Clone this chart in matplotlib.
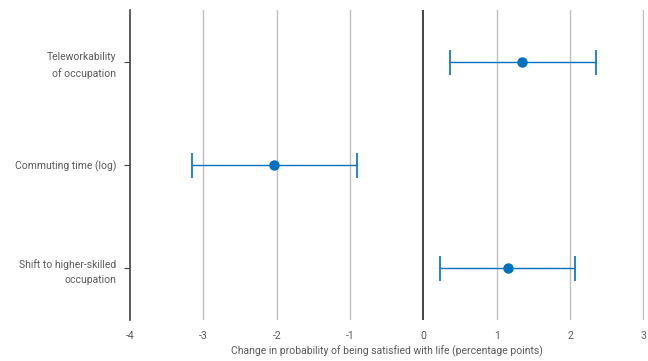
import matplotlib.pyplot as plt
import numpy as np

plt.rcParams["font.family"] = ["Roboto", "DejaVu Sans"]
plt.rcParams["font.size"] = 7.5

# data (percentage points)
CATEGORIES = ["Teleworkability\nof occupation", "Commuting time (log)", "Shift to higher-skilled\noccupation"]
ESTIMATES = [1.35, -2.03, 1.15]
CI_LOWER = [0.36, -3.15, 0.23]
CI_UPPER = [2.35, -0.91, 2.07]
X_TICKS = [-4, -3, -2, -1, 0, 1, 2, 3]

BLUE = "#0070C0"
TEXT = "#595959"

fig = plt.figure(figsize=(6.48, 3.61), dpi=100)
ax = fig.add_axes([130 / 648, 1 - 320 / 361, 514 / 648, 310 / 361])

y = np.arange(len(CATEGORIES))
est = np.array(ESTIMATES)
xerr = [est - np.array(CI_LOWER), np.array(CI_UPPER) - est]
ax.errorbar(est, y, xerr=xerr, fmt="o", color=BLUE, ecolor=BLUE, elinewidth=1.0,
            capsize=9, capthick=1.2, markersize=6.5, zorder=3)

ax.set_xlim(-4, 3.01)
ax.set_ylim(len(CATEGORIES) - 0.5, -0.5)
ax.set_xticks(X_TICKS)
ax.set_xticklabels([str(t) for t in X_TICKS], color=TEXT)
ax.set_yticks(y)
ax.set_yticklabels(CATEGORIES, color=TEXT, ha="right", multialignment="right",
                   linespacing=1.7)

for t in X_TICKS:
    if t == 0:
        ax.axvline(t, color="#222222", linewidth=1.2, zorder=2)
    elif t != -4:
        ax.axvline(t, color="#BFBFBF", linewidth=1.0, zorder=1)

for s in ["top", "right", "bottom"]:
    ax.spines[s].set_visible(False)
ax.spines["left"].set_color("#404040")
ax.spines["left"].set_linewidth(1.2)
ax.tick_params(axis="x", length=0, pad=8)
ax.tick_params(axis="y", length=4, color="#404040", pad=6)

ax.set_xlabel("Change in probability of being satisfied with life (percentage points)",
              color=TEXT, labelpad=3)

fig.savefig("out.png", dpi=100)
